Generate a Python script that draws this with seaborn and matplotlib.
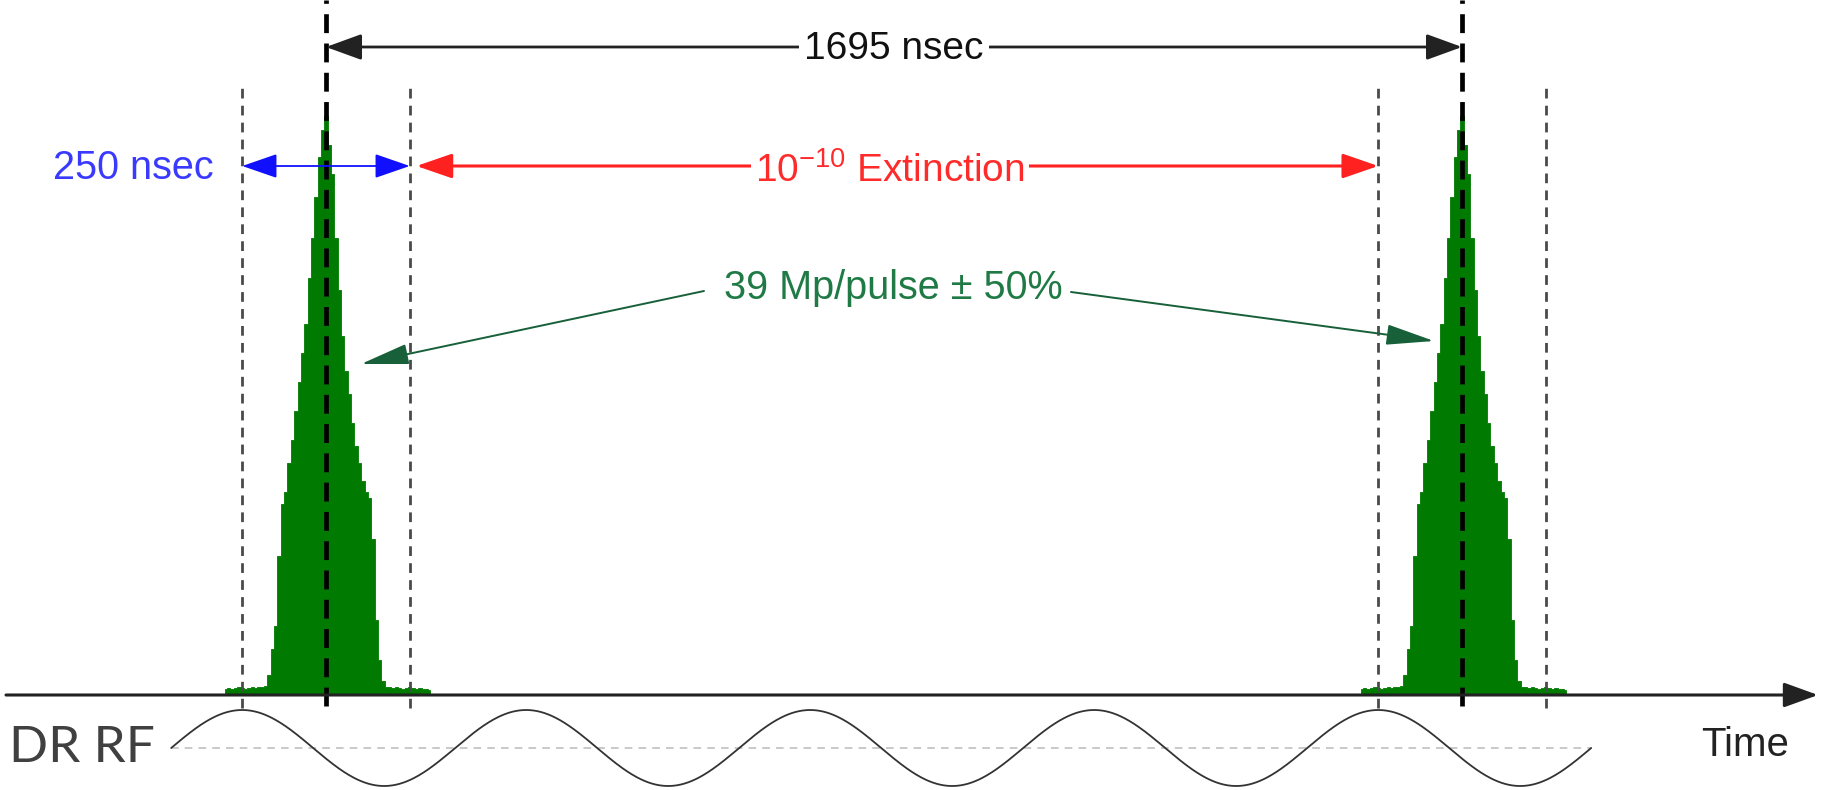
import numpy as np
import matplotlib
matplotlib.use("Agg")
import matplotlib.pyplot as plt
import seaborn as sns

# --- timing (ns) ---
pulse_centers = [0, 1695]
window_half = 125          # 250 nsec window around each pulse
rf_cycles_between = 4      # DR RF periods between two pulses
rf_start, rf_cycles = -231, 5

# pulse profile: offset from centre (ns) and relative height
pulse_offset = [-150, -145, -140, -135, -130, -125, -120, -115, -110, -105, -100, -95, -90,
                -85, -80, -75, -70, -65, -60, -55, -50, -45, -40, -35, -30, -25, -20, -15,
                -10, -5, 0, 5, 10, 15, 20, 25, 30, 35, 40, 45, 50, 55, 60, 65, 70, 75, 80,
                85, 90, 95, 100, 105, 110, 115, 120, 125, 130, 135, 140, 145, 150, 155]
pulse_height = [0.010, 0.012, 0.011, 0.012, 0.013, 0.012, 0.011, 0.012, 0.013, 0.012, 0.014, 0.013, 0.016,
                0.035, 0.080, 0.120, 0.240, 0.330, 0.350, 0.400, 0.440, 0.490, 0.540, 0.590, 0.640, 0.720, 0.790, 0.860,
                0.930, 0.975, 1.000, 0.950, 0.900, 0.790, 0.700, 0.620, 0.560, 0.520, 0.470, 0.430, 0.400, 0.370, 0.350,
                0.340, 0.270, 0.130, 0.060, 0.025, 0.014, 0.013, 0.012, 0.013, 0.012, 0.011, 0.012, 0.013, 0.012,
                0.011, 0.012, 0.011, 0.010, 0.008]

label_period = "1695 nsec"
label_window = "250 nsec"
label_ext = "10$^{-10}$ Extinction"
label_int = "39 Mp/pulse \u00b1 50%"

# --- layout: x in ns, y in pixels measured upward ---
W, H = 1825, 790
px_per_ns = 1136 / 1695
x0_px = 326
y_axis = 95
pulse_peak = 579
rf_mid, rf_amp = 42, 38


def ns(px):
    return (px - x0_px) / px_per_ns


def up(py):
    return H - py


sns.set_theme(style="white")
plt.rcParams["font.family"] = ["Liberation Sans", "DejaVu Sans"]
plt.rcParams["mathtext.default"] = "regular"

fig = plt.figure(figsize=(W / 100, H / 100), dpi=100)
ax = fig.add_axes([0, 0, 1, 1])
ax.set_xlim(ns(0), ns(W))
ax.set_ylim(0, H)
ax.axis("off")

# pulses
off = np.array(pulse_offset)
hgt = np.array(pulse_height)
for c in pulse_centers:
    ax.fill_between(c + off, y_axis, y_axis + hgt * pulse_peak, step="mid",
                    color="#007a00", lw=0.6, zorder=2)

# window lines and pulse centre lines
for c in pulse_centers:
    for d in (-window_half, window_half):
        ax.plot([c + d, c + d], [up(708), up(84)], color="#4a4a4a", lw=2.0,
                dashes=(3.5, 2.6), zorder=3)
    ax.plot([c, c], [up(706), up(0)], color="black", lw=3.4, dashes=(4, 2.2), zorder=4)

# time axis
ax.annotate("", xy=(ns(1818), y_axis), xytext=(ns(6), y_axis),
            arrowprops=dict(arrowstyle="-|>,head_length=1.05,head_width=0.38",
                            mutation_scale=20, color="#222222", lw=2.2,
                            shrinkA=0, shrinkB=0), zorder=5)
ax.text(ns(1701), up(745), "Time", fontsize=29, color="#222222", va="center", ha="left")

# DR RF wave
rf_period = pulse_centers[1] / rf_cycles_between
t = np.linspace(rf_start, rf_start + rf_cycles * rf_period, 1200)
rf = rf_mid + rf_amp * np.sin(2 * np.pi * (t - rf_start) / rf_period)
sns.lineplot(x=t, y=rf, ax=ax, color="#333333", lw=1.3, zorder=3)
ax.plot([t[0], t[-1]], [rf_mid, rf_mid], color="#bbbbbb", lw=1.1, dashes=(5, 4), zorder=2)
ax.text(ns(9), rf_mid, "DR RF", fontsize=37, color="#404040", va="center", ha="left",
        family=["Lato", "DejaVu Sans"])

# 1695 nsec
y_top = up(47)
ax.annotate("", xy=(pulse_centers[1], y_top), xytext=(pulse_centers[0], y_top),
            arrowprops=dict(arrowstyle="<|-|>,head_length=1.1,head_width=0.4",
                            mutation_scale=20, color="#222222", lw=2.0,
                            shrinkA=0, shrinkB=0), zorder=5)
ax.text(sum(pulse_centers) / 2, y_top - 2, label_period, fontsize=28, color="#111111",
        ha="center", va="center", zorder=6,
        bbox=dict(facecolor="white", edgecolor="none", pad=4))

# 250 nsec window
y_win = up(166)
ax.annotate("", xy=(window_half, y_win), xytext=(-window_half, y_win),
            arrowprops=dict(arrowstyle="<|-|>,head_length=1.1,head_width=0.38",
                            mutation_scale=20, color="#1010ff", lw=1.3,
                            shrinkA=0, shrinkB=0), zorder=5)
ax.text(ns(133), y_win - 2, label_window, fontsize=28.5, color="#3a3aff", ha="center", va="center")

# extinction
ax.annotate("", xy=(pulse_centers[1] - window_half, y_win), xytext=(window_half + 10, y_win),
            arrowprops=dict(arrowstyle="<|-|>,head_length=1.1,head_width=0.38",
                            mutation_scale=20, color="#ff2020", lw=2.2,
                            shrinkA=0, shrinkB=0), zorder=5)
ax.text(ns(890), y_win - 1, label_ext, fontsize=28, color="#ff2a2a", ha="center",
        va="center_baseline", zorder=6, bbox=dict(facecolor="white", edgecolor="none", pad=3))

# intensity
ax.text(ns(893), up(288), label_int, fontsize=28.5, color="#1f7a45", ha="center", va="center")
green = dict(arrowstyle="-|>,head_length=1.5,head_width=0.32", mutation_scale=20,
             color="#17603a", lw=1.4, shrinkA=0, shrinkB=0)
ax.annotate("", xy=(ns(361), up(364)), xytext=(ns(704), up(291)), arrowprops=green, zorder=5)
ax.annotate("", xy=(ns(1434), up(341)), xytext=(ns(1071), up(292)), arrowprops=green, zorder=5)

fig.savefig("out.png", dpi=100)
